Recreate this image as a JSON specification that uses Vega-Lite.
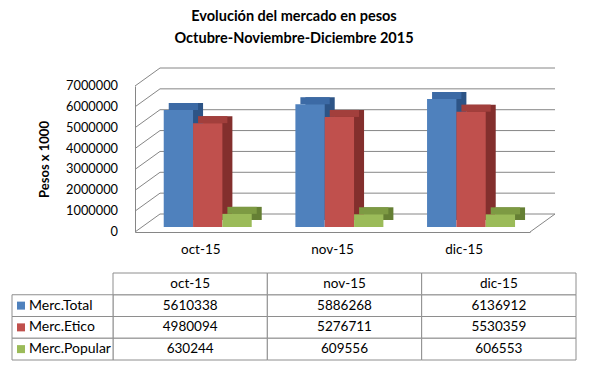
{
  "$schema": "https://vega.github.io/schema/vega-lite/v6.json",
  "width": 395,
  "height": 146,
  "autosize": {"type": "none"},
  "padding": {"left": 135, "top": 86, "right": 59, "bottom": 141},
  "background": "white",
  "title": {
    "text": ["Evolución del mercado en pesos", "Octubre-Noviembre-Diciembre 2015"],
    "font": "Lato", "fontSize": 14.5, "fontWeight": "bold", "color": "#000000",
    "lineHeight": 22, "anchor": "middle", "frame": "bounds", "offset": 21
  },
  "config": {
    "view": {"stroke": null},
    "font": "Lato",
    "axisX": {"labelAngle": 0, "ticks": false, "tickSize": 0, "labelPadding": 10, "domainColor": "#868686", "labelFont": "Lato", "labelFontSize": 13.5, "labelColor": "#000000", "grid": false},
    "axisY": {"labels": false, "grid": false, "ticks": false, "tickSize": 0, "domainColor": "#868686", "titleFont": "Lato", "titleFontSize": 13, "titleFontWeight": "bold", "titleColor": "#000000", "titlePadding": 84}
  },
  "datasets": {
    "mercado": [
      {"mes": "oct-15", "serie": "Merc.Total", "valor": 5610338},
      {"mes": "oct-15", "serie": "Merc.Etico", "valor": 4980094},
      {"mes": "oct-15", "serie": "Merc.Popular", "valor": 630244},
      {"mes": "nov-15", "serie": "Merc.Total", "valor": 5886268},
      {"mes": "nov-15", "serie": "Merc.Etico", "valor": 5276711},
      {"mes": "nov-15", "serie": "Merc.Popular", "valor": 609556},
      {"mes": "dic-15", "serie": "Merc.Total", "valor": 6136912},
      {"mes": "dic-15", "serie": "Merc.Etico", "valor": 5530359},
      {"mes": "dic-15", "serie": "Merc.Popular", "valor": 606553}
    ],
    "meses": [{"mes": "oct-15"}, {"mes": "nov-15"}, {"mes": "dic-15"}],
    "series": [{"serie": "Merc.Total"}, {"serie": "Merc.Etico"}, {"serie": "Merc.Popular"}],
    "grid": [{"v": 0}, {"v": 1000000}, {"v": 2000000}, {"v": 3000000}, {"v": 4000000}, {"v": 5000000}, {"v": 6000000}, {"v": 7000000}]
  },
  "layer": [
    {
      "layer": [
        {
          "data": {"name": "grid"},
          "mark": {"type": "rule", "color": "#868686", "strokeWidth": 1, "xOffset": 25, "x2Offset": 25, "yOffset": -18},
          "encoding": {
            "x": {"value": 0},
            "x2": {"value": "width"},
            "y": {
              "field": "v", "type": "quantitative",
              "scale": {"domain": [0, 7000000], "nice": false},
              "axis": {"title": "Pesos x 1000", "labels": false}
            }
          }
        },
        {
          "data": {"name": "grid"},
          "mark": {"type": "rule", "color": "#868686", "strokeWidth": 1, "x2Offset": 25, "y2Offset": -18},
          "encoding": {
            "x": {"value": 0},
            "x2": {"value": 0},
            "y": {"field": "v", "type": "quantitative", "axis": {"title": "Pesos x 1000", "labels": false}},
            "y2": {"field": "v"}
          }
        },
        {
          "data": {"name": "grid"},
          "transform": [{"filter": "datum.v == 0"}],
          "mark": {"type": "rule", "color": "#868686", "strokeWidth": 1, "x2Offset": 25, "y2Offset": -18},
          "encoding": {
            "x": {"value": "width"},
            "x2": {"value": "width"},
            "y": {"field": "v", "type": "quantitative", "axis": {"title": "Pesos x 1000", "labels": false}},
            "y2": {"field": "v"}
          }
        },
        {
          "data": {"name": "grid"},
          "mark": {"type": "text", "align": "right", "baseline": "middle", "dx": -17, "font": "Lato", "fontSize": 12.8, "color": "#000000"},
          "encoding": {
            "x": {"value": 0},
            "y": {"field": "v", "type": "quantitative", "axis": {"title": "Pesos x 1000", "labels": false}},
            "text": {"field": "v", "type": "quantitative", "format": "d"}
          }
        },
        {
          "data": {"name": "mercado"},
          "mark": {"type": "bar", "yOffset": -12, "y2Offset": -12},
          "encoding": {
            "x": {"field": "mes", "type": "nominal", "title": null, "scale": {"domain": ["oct-15", "nov-15", "dic-15"], "paddingInner": 0.33, "paddingOuter": 0.165}},
            "xOffset": {"field": "serie", "type": "nominal", "scale": {"domain": ["Merc.Total", "Merc.Etico", "Merc.Popular"], "range": [17, 105], "paddingInner": 0, "paddingOuter": 0}},
            "y": {"field": "valor", "type": "quantitative", "axis": {"title": "Pesos x 1000", "labels": false}},
            "color": {"field": "serie", "type": "nominal", "scale": {"domain": ["Merc.Total", "Merc.Etico", "Merc.Popular"], "range": ["#2D5486", "#832F2D", "#657F34"]}, "legend": null}
          }
        },
        {
          "data": {"name": "mercado"},
          "mark": {"type": "bar", "yOffset": -12, "y2Offset": -5},
          "encoding": {
            "x": {"field": "mes", "type": "nominal", "title": null, "scale": {"domain": ["oct-15", "nov-15", "dic-15"], "paddingInner": 0.33, "paddingOuter": 0.165}},
            "xOffset": {"field": "serie", "type": "nominal", "scale": {"domain": ["Merc.Total", "Merc.Etico", "Merc.Popular"], "range": [12, 100], "paddingInner": 0, "paddingOuter": 0}},
            "y": {"field": "valor", "type": "quantitative", "axis": {"title": "Pesos x 1000", "labels": false}},
            "y2": {"field": "valor"},
            "color": {"field": "serie", "type": "nominal", "scale": {"domain": ["Merc.Total", "Merc.Etico", "Merc.Popular"], "range": ["#3C6AA5", "#A23F3C", "#7D9A43"]}, "legend": null}
          }
        },
        {
          "data": {"name": "mercado"},
          "mark": {"type": "bar", "yOffset": -5, "y2Offset": -5},
          "encoding": {
            "x": {"field": "mes", "type": "nominal", "title": null, "scale": {"domain": ["oct-15", "nov-15", "dic-15"], "paddingInner": 0.33, "paddingOuter": 0.165}},
            "xOffset": {"field": "serie", "type": "nominal", "scale": {"domain": ["Merc.Total", "Merc.Etico", "Merc.Popular"], "range": [7, 95], "paddingInner": 0, "paddingOuter": 0}},
            "y": {"field": "valor", "type": "quantitative", "axis": {"title": "Pesos x 1000", "labels": false}},
            "color": {"field": "serie", "type": "nominal", "scale": {"domain": ["Merc.Total", "Merc.Etico", "Merc.Popular"], "range": ["#4F81BD", "#C0504D", "#9BBB59"]}, "legend": null}
          }
        }
      ],
      "resolve": {"scale": {"xOffset": "independent", "color": "independent"}}
    },
    {
      "layer": [
        {
          "layer": [
            {
              "data": {"name": "mercado"},
              "mark": {"type": "rect", "fill": "white", "stroke": "#8E8E8E", "strokeWidth": 1},
              "encoding": {
                "x": {"field": "mes", "type": "nominal", "axis": null, "scale": {"type": "band", "domain": ["oct-15", "nov-15", "dic-15"], "range": [-22, 441], "paddingInner": 0, "paddingOuter": 0}},
                "y": {"field": "serie", "type": "nominal", "axis": null, "scale": {"type": "band", "domain": ["header", "Merc.Total", "Merc.Etico", "Merc.Popular"], "range": [187, 274], "paddingInner": 0, "paddingOuter": 0}}
              }
            },
            {
              "data": {"name": "meses"},
              "mark": {"type": "rect", "fill": "white", "stroke": "#8E8E8E", "strokeWidth": 1},
              "encoding": {
                "x": {"field": "mes", "type": "nominal", "axis": null},
                "y": {"datum": "header", "type": "nominal", "axis": null}
              }
            },
            {
              "data": {"name": "mercado"},
              "mark": {"type": "text", "font": "Lato", "fontSize": 13.5, "color": "#000000"},
              "encoding": {
                "x": {"field": "mes", "type": "nominal", "axis": null},
                "y": {"field": "serie", "type": "nominal", "axis": null},
                "text": {"field": "valor", "type": "quantitative", "format": "d"}
              }
            },
            {
              "data": {"name": "meses"},
              "mark": {"type": "text", "font": "Lato", "fontSize": 13.5, "color": "#000000"},
              "encoding": {
                "x": {"field": "mes", "type": "nominal", "axis": null},
                "y": {"datum": "header", "type": "nominal", "axis": null},
                "text": {"field": "mes", "type": "nominal"}
              }
            }
          ]
        },
        {
          "layer": [
            {
              "data": {"name": "series"},
              "mark": {"type": "rect", "fill": "white", "stroke": "#8E8E8E", "strokeWidth": 1},
              "encoding": {
                "x": {"datum": "lbl", "type": "nominal", "axis": null, "scale": {"type": "band", "domain": ["lbl"], "range": [-123, -22], "paddingInner": 0, "paddingOuter": 0}},
                "y": {"field": "serie", "type": "nominal", "axis": null, "scale": {"type": "band", "domain": ["header", "Merc.Total", "Merc.Etico", "Merc.Popular"], "range": [187, 274], "paddingInner": 0, "paddingOuter": 0}}
              }
            },
            {
              "data": {"name": "series"},
              "mark": {"type": "point", "shape": "square", "size": 64, "filled": true, "opacity": 1, "xOffset": 9},
              "encoding": {
                "x": {"datum": "lbl", "type": "nominal", "bandPosition": 0, "axis": null},
                "y": {"field": "serie", "type": "nominal", "axis": null},
                "color": {"field": "serie", "type": "nominal", "scale": {"domain": ["Merc.Total", "Merc.Etico", "Merc.Popular"], "range": ["#4F81BD", "#C0504D", "#9BBB59"]}, "legend": null}
              }
            },
            {
              "data": {"name": "series"},
              "mark": {"type": "text", "align": "left", "dx": 17, "font": "Lato", "fontSize": 14, "color": "#000000"},
              "encoding": {
                "x": {"datum": "lbl", "type": "nominal", "bandPosition": 0, "axis": null},
                "y": {"field": "serie", "type": "nominal", "axis": null},
                "text": {"field": "serie", "type": "nominal"}
              }
            }
          ]
        }
      ],
      "resolve": {"scale": {"x": "independent"}}
    }
  ],
  "resolve": {"scale": {"x": "independent", "y": "independent", "color": "independent"}}
}
